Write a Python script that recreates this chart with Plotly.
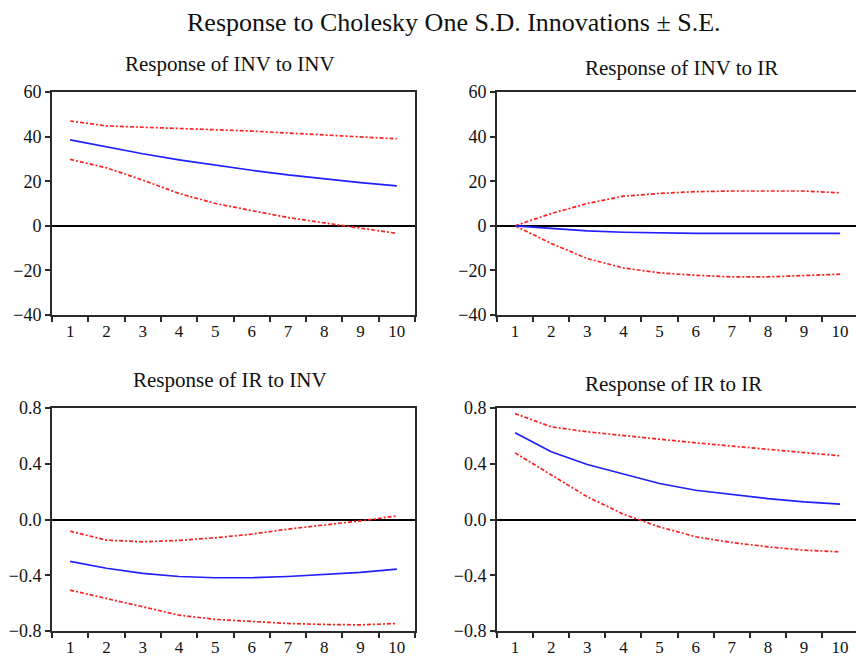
import plotly.graph_objects as go

periods = list(range(1, 11))

# Response of INV to INV
inv_inv = [38.5, 35.4, 32.3, 29.6, 27.1, 24.9, 22.8, 21.0, 19.4, 17.9]
inv_inv_up = [47.0, 44.8, 44.2, 43.7, 43.0, 42.5, 41.6, 40.7, 39.7, 39.0]
inv_inv_lo = [29.8, 26.0, 20.5, 14.5, 10.0, 6.7, 3.7, 1.3, -0.9, -3.4]

# Response of INV to IR
inv_ir = [0.0, -1.3, -2.3, -2.9, -3.3, -3.4, -3.4, -3.4, -3.4, -3.4]
inv_ir_up = [0.0, 5.5, 10.0, 13.3, 14.5, 15.3, 15.6, 15.6, 15.6, 14.8]
inv_ir_lo = [0.0, -7.9, -14.7, -18.9, -21.1, -22.2, -22.9, -22.9, -22.3, -21.7]

# Response of IR to INV
ir_inv = [-0.30, -0.35, -0.387, -0.409, -0.418, -0.418, -0.409, -0.395, -0.38, -0.356]
ir_inv_up = [-0.084, -0.148, -0.16, -0.15, -0.131, -0.105, -0.069, -0.04, -0.01, 0.026]
ir_inv_lo = [-0.507, -0.567, -0.627, -0.686, -0.717, -0.734, -0.746, -0.753, -0.756, -0.746]

# Response of IR to IR
ir_ir = [0.622, 0.486, 0.395, 0.325, 0.258, 0.21, 0.18, 0.15, 0.127, 0.11]
ir_ir_up = [0.76, 0.665, 0.629, 0.60, 0.576, 0.55, 0.526, 0.502, 0.483, 0.457]
ir_ir_lo = [0.478, 0.318, 0.163, 0.038, -0.053, -0.124, -0.165, -0.196, -0.22, -0.232]

main_title = "Response to Cholesky One S.D. Innovations \u00b1 S.E."
panel_titles = ["Response of INV to INV", "Response of INV to IR",
                "Response of IR to INV", "Response of IR to IR"]

top_ticks = [-40, -20, 0, 20, 40, 60]
bottom_ticks = [-0.8, -0.4, 0.0, 0.4, 0.8]

FONT = "Liberation Serif"
W, H = 856, 658
BLUE = "#1f1fff"
RED = "#ff1f1f"
AX = "#2a2a2a"
DASH = "4px,2px,2px,2px"

panels = [
    (inv_inv, inv_inv_up, inv_inv_lo),
    (inv_ir, inv_ir_up, inv_ir_lo),
    (ir_inv, ir_inv_up, ir_inv_lo),
    (ir_ir, ir_ir_up, ir_ir_lo),
]

xdom = {"L": [52 / W, 415 / W], "R": [497 / W, 1.0]}
ydom = {"T": [1 - 315 / H, 1 - 92 / H], "B": [1 - 631 / H, 1 - 408 / H]}
layout_pos = [("L", "T"), ("R", "T"), ("L", "B"), ("R", "B")]

fig = go.Figure()
for i, (mid, up, lo) in enumerate(panels):
    n = i + 1
    xa = "x" if n == 1 else f"x{n}"
    ya = "y" if n == 1 else f"y{n}"
    for series, color, dash in [(up, RED, DASH), (lo, RED, DASH), (mid, BLUE, "solid")]:
        fig.add_trace(go.Scatter(x=periods, y=series, mode="lines", xaxis=xa, yaxis=ya,
                                 line=dict(color=color, width=1.7, dash=dash),
                                 showlegend=False, hoverinfo="skip"))
    cx, cy = layout_pos[i]
    right = cx == "R"
    top = cy == "T"
    xkey = "xaxis" if n == 1 else f"xaxis{n}"
    ykey = "yaxis" if n == 1 else f"yaxis{n}"
    fig.update_layout(**{
        xkey: dict(domain=xdom[cx], anchor=ya, range=[0.5, 10.44 if right else 10.5],
                   tickmode="array", tickvals=periods, ticktext=[str(p) for p in periods],
                   ticks="", showgrid=False, zeroline=False,
                   showline=True, linecolor=AX, linewidth=2, mirror=True,
                   minor=dict(tickmode="array", tickvals=[p - 0.5 for p in periods] + [10.5],
                              ticks="outside", ticklen=5, tickwidth=1.5, tickcolor=AX, showgrid=False),
                   tickfont=dict(family=FONT, size=17, color="#111"), automargin=False, fixedrange=True),
        ykey: dict(domain=ydom[cy], anchor=xa,
                   range=[-40, 60] if top else [-0.8, 0.8],
                   tickmode="array", tickvals=top_ticks if top else bottom_ticks,
                   ticktext=([f"{v:d}".replace("-", "\u2212") for v in top_ticks] if top
                             else [f"{v:.1f}".replace("-", "\u2212") for v in bottom_ticks]),
                   ticks="outside", ticklen=5, tickwidth=1.5, tickcolor=AX,
                   showgrid=False, zeroline=True, zerolinecolor="#000", zerolinewidth=1.6,
                   showline=True, linecolor=AX, linewidth=2, mirror=not right,
                   tickfont=dict(family=FONT, size=18, color="#111"), automargin=False, fixedrange=True),
    })

title_pos = [(230, 64), (681, 68), (230, 380), (673, 384)]
annotations = [dict(text=main_title, x=454 / W, y=1 - 23 / H, xref="paper", yref="paper",
                    xanchor="center", yanchor="middle", showarrow=False,
                    font=dict(family=FONT, size=26, color="#111"))]
for t, (px, py) in zip(panel_titles, title_pos):
    annotations.append(dict(text=t, x=px / W, y=1 - py / H, xref="paper", yref="paper",
                            xanchor="center", yanchor="middle", showarrow=False,
                            font=dict(family=FONT, size=21, color="#111")))

fig.update_layout(width=W, height=H, margin=dict(l=0, r=0, t=0, b=0),
                  paper_bgcolor="white", plot_bgcolor="white",
                  annotations=annotations, showlegend=False)

fig.write_html("out.html", config={"displayModeBar": False},
               post_script="document.body.style.margin='0';document.body.style.padding='0';"
                           "document.body.style.overflow='hidden';")
